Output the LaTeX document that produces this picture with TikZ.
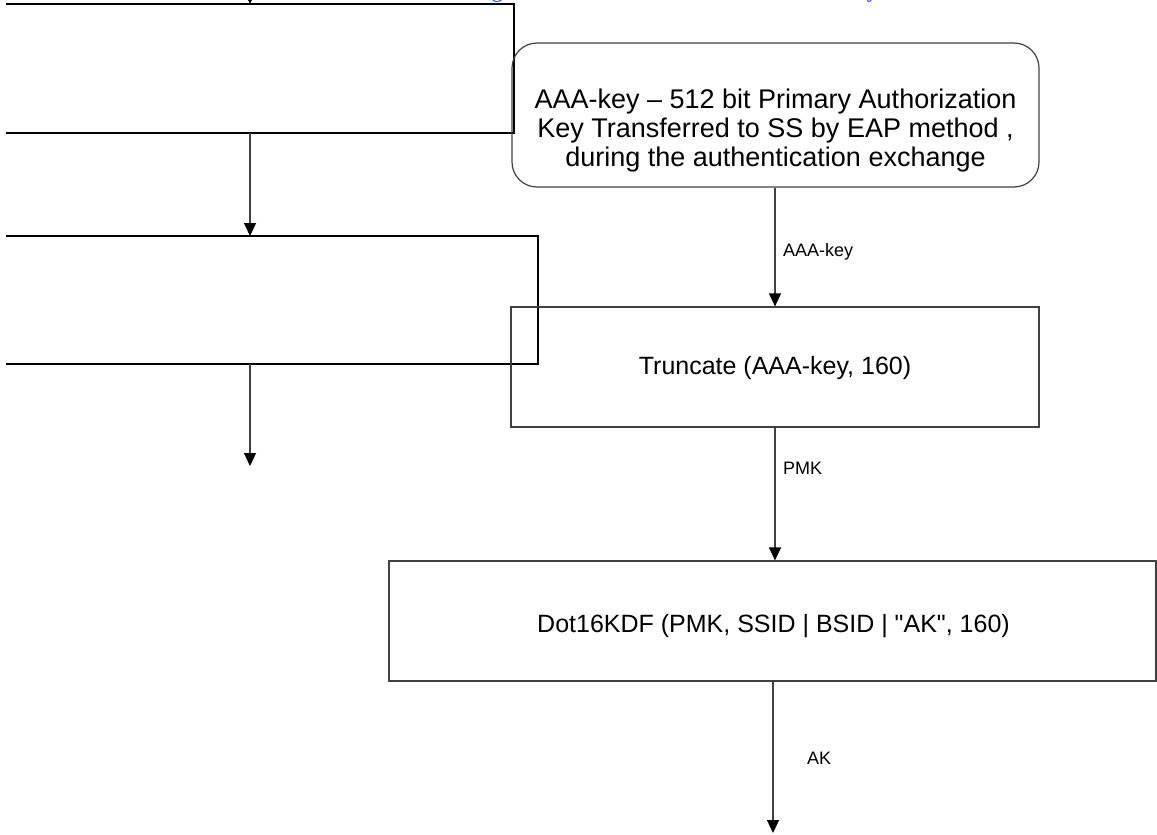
\documentclass[tikz,border=0pt]{standalone}
\usepackage{fontspec}
\setmainfont{Liberation Sans}[Ligatures=TeXOff]
\newfontfamily\capfont{Liberation Serif}
\usetikzlibrary{arrows.meta}
\definecolor{capblue}{RGB}{30,60,255}
\begin{document}
\begin{tikzpicture}[x=1pt,y=-1pt,
  thinline/.style={draw=black!75, line width=1.2pt},
  thickline/.style={draw=black, line width=2.2pt},
  flowbox/.style={thinline, rectangle, inner sep=0pt},
  boxtext/.style={font=\fontsize{25}{29}\selectfont, align=center, inner sep=0pt},
  tip/.style={-{Triangle[length=13pt,width=12pt,black]}},
  lbl/.style={font=\fontsize{18}{20}\selectfont, anchor=west, inner sep=0pt}]
\useasboundingbox (0,0) rectangle (1157,835);
\clip (0,0) rectangle (1157,835);

% partially visible caption (only descenders inside the frame)
\node[font=\capfont\fontsize{22.6}{24}\selectfont, text=capblue, anchor=base west, inner sep=0pt] (title) at (472.5,-2.5) {Figure 130c—AK derivation from AAA-key};

% left, partially visible structure
\coordinate (b1tl) at (6,4);
\coordinate (b1tr) at (514,4);
\coordinate (b1br) at (514,133);
\coordinate (b1bl) at (6,133);
\coordinate (b2tl) at (6,236);
\coordinate (b2tr) at (538,236);
\coordinate (b2br) at (538,364);
\coordinate (b2bl) at (6,364);
\coordinate (in1) at (250,-30);
\coordinate (b1in) at (250,4);
\coordinate (b1out) at (250,133);
\coordinate (b2in) at (250,236);
\coordinate (b2out) at (250,364);
\coordinate (out2) at (250,466);
\draw[thickline] (b1tl) -- (b1tr) -- (b1br) -- (b1bl);
\draw[thickline] (b2tl) -- (b2tr) -- (b2br) -- (b2bl);
\draw[thinline, tip] (in1) -- (b1in);
\draw[thinline, tip] (b1out) -- (b2in);
\draw[thinline, tip] (b2out) -- (out2);

% right flow
\node[flowbox, rounded corners=25pt, minimum width=527pt, minimum height=144pt] (auth) at (775.5,115) {};
\node[boxtext, font=\fontsize{27}{29}\selectfont] (authtext) at (775.5,131)
  {AAA-key – 512 bit Primary Authorization\\Key Transferred to SS by EAP method ,\\during the authentication exchange};
\node[flowbox, minimum width=528pt, minimum height=120pt] (trunc) at (775,367) {};
\node[boxtext] (trunctext) at (775,368) {Truncate (AAA-key, 160)};
\node[flowbox, minimum width=767pt, minimum height=120pt] (kdf) at (772.5,621) {};
\node[boxtext] (kdftext) at (773.5,626) {Dot16KDF (PMK, SSID | BSID | "AK", 160)};
\coordinate (akend) at (773,833);

\draw[thinline, tip] (trunc.north |- auth.south) -- (trunc.north);
\draw[thinline, tip] (trunc.south) -- (trunc.south |- kdf.north);
\draw[thinline, tip] (kdf.south -| akend) -- (akend);

\node[lbl] (laaa) at (783,252) {AAA-key};
\node[lbl] (lpmk) at (783,468) {PMK};
\node[lbl] (lak) at (807,758) {AK};
\end{tikzpicture}
\end{document}
